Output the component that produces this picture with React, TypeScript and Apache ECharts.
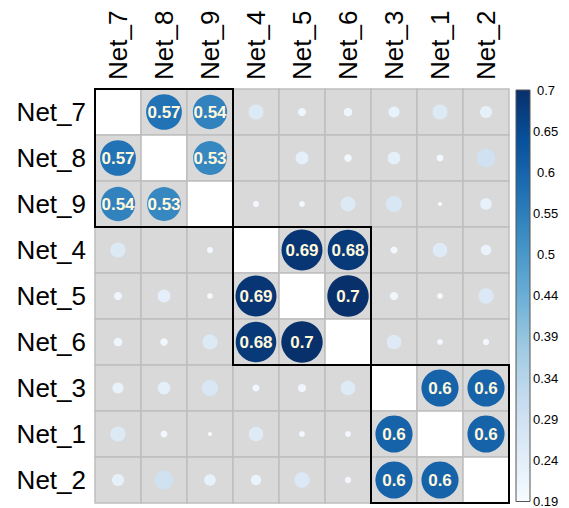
import React, { useEffect, useRef } from "react";
import * as echarts from "echarts";

const names = ["Net_7", "Net_8", "Net_9", "Net_4", "Net_5", "Net_6", "Net_3", "Net_1", "Net_2"];

// correlation matrix rows (null = diagonal)
const rowNet7 = [null, 0.57, 0.54, 0.258, 0.209, 0.212, 0.227, 0.258, 0.233];
const rowNet8 = [0.57, null, 0.53, 0.19, 0.239, 0.207, 0.237, 0.204, 0.292];
const rowNet9 = [0.54, 0.53, null, 0.201, 0.2, 0.258, 0.268, 0.195, 0.23];
const rowNet4 = [0.258, 0.19, 0.201, null, 0.69, 0.68, 0.205, 0.254, 0.223];
const rowNet5 = [0.209, 0.239, 0.2, 0.69, null, 0.7, 0.21, 0.2, 0.261];
const rowNet6 = [0.212, 0.207, 0.258, 0.68, 0.7, null, 0.254, 0.2, 0.202];
const rowNet3 = [0.227, 0.237, 0.268, 0.205, 0.21, 0.254, null, 0.6, 0.6];
const rowNet1 = [0.258, 0.204, 0.195, 0.254, 0.2, 0.2, 0.6, null, 0.6];
const rowNet2 = [0.233, 0.292, 0.23, 0.223, 0.261, 0.202, 0.6, 0.6, null];
const matrix = [rowNet7, rowNet8, rowNet9, rowNet4, rowNet5, rowNet6, rowNet3, rowNet1, rowNet2];

// clusters (start index, end index)
const clusters = [
  [0, 2],
  [3, 5],
  [6, 8],
];

const colMin = 0.19;
const colMax = 0.7;
const colorbarTicks = ["0.19", "0.24", "0.29", "0.34", "0.39", "0.44", "0.5", "0.55", "0.6", "0.65", "0.7"];
const blues = ["#F7FBFF", "#DEEBF7", "#C6DBEF", "#9ECAE1", "#6BAED6", "#4292C6", "#2171B5", "#08519C", "#08306B"];

const FONT = "'Liberation Sans', Arial, Helvetica, sans-serif";

export default function App() {
  const ref = useRef<HTMLDivElement>(null);
  useEffect(() => {
    if (!ref.current) return;
    const chart = echarts.init(ref.current, null, { renderer: "svg" });

    const cells: number[][] = [];
    const points: number[][] = [];
    for (let r = 0; r < names.length; r++) {
      for (let c = 0; c < names.length; c++) {
        cells.push([c, r]);
        const v = matrix[r][c];
        if (v !== null && v !== undefined) points.push([c, r, v as number]);
      }
    }

    const option: any = {
      animation: false,
      backgroundColor: "#ffffff",
      grid: [
        { left: 95, top: 89, width: 414, height: 414 },
        { left: 516, top: 90, width: 14, height: 413 },
      ],
      xAxis: [
        {
          gridIndex: 0,
          type: "category",
          data: names,
          position: "top",
          axisLine: { show: false },
          axisTick: { show: false },
          splitLine: { show: false },
          axisLabel: { rotate: -90, fontSize: 26, color: "#000", fontFamily: FONT, margin: 9, interval: 0 },
        },
        { gridIndex: 1, type: "value", min: 0, max: 1, show: false },
      ],
      yAxis: [
        {
          gridIndex: 0,
          type: "category",
          data: names,
          inverse: true,
          axisLine: { show: false },
          axisTick: { show: false },
          splitLine: { show: false },
          axisLabel: { fontSize: 26, color: "#000", fontFamily: FONT, margin: 9, interval: 0 },
        },
        {
          gridIndex: 1,
          type: "value",
          min: 0,
          max: 10,
          interval: 1,
          position: "right",
          splitLine: { show: false },
          axisLine: { show: false },
          axisTick: { show: true, length: 3, lineStyle: { color: "#444", width: 1 } },
          axisLabel: {
            fontSize: 13,
            color: "#000",
            fontFamily: FONT,
            margin: 3,
            formatter: (v: number) => {
              const t = colorbarTicks[Math.round(v)];
              return t.length < 4 ? "{p|" + t + "}" : t;
            },
            rich: { p: { padding: [0, 0, 0, 4], fontSize: 13, fontFamily: FONT, color: "#000" } },
          },
        },
      ],
      visualMap: {
        show: false,
        type: "continuous",
        seriesIndex: 1,
        dimension: 2,
        min: colMin,
        max: colMax,
        inRange: { color: blues },
      },
      series: [
        {
          type: "custom",
          xAxisIndex: 0,
          yAxisIndex: 0,
          z: 1,
          data: cells,
          renderItem: (params: any, api: any) => {
            const c = api.value(0);
            const r = api.value(1);
            const p = api.coord([c, r]);
            const s = api.size([1, 1]);
            return {
              type: "rect",
              shape: { x: p[0] - s[0] / 2, y: p[1] - s[1] / 2, width: s[0], height: s[1] },
              style: { fill: c === r ? "#ffffff" : "#D9D9D9", stroke: "#BEBEBE", lineWidth: 1.5 },
            };
          },
        },
        {
          type: "scatter",
          xAxisIndex: 0,
          yAxisIndex: 0,
          z: 2,
          data: points,
          symbolSize: (val: number[]) => 41.4 * Math.sqrt(Math.max(0, (val[2] - colMin) / (colMax - colMin))),
          itemStyle: { opacity: 1 },
          label: {
            show: true,
            position: "inside",
            fontSize: 17,
            fontWeight: "bold",
            color: "#FFF8DC",
            fontFamily: FONT,
            formatter: (p: any) => (p.value[2] >= 0.5 ? String(p.value[2]) : ""),
          },
        },
        {
          type: "custom",
          xAxisIndex: 0,
          yAxisIndex: 0,
          z: 3,
          data: clusters,
          renderItem: (params: any, api: any) => {
            const a = api.value(0);
            const b = api.value(1);
            const p = api.coord([a, a]);
            const s = api.size([1, 1]);
            const n = b - a + 1;
            return {
              type: "rect",
              shape: { x: p[0] - s[0] / 2, y: p[1] - s[1] / 2, width: s[0] * n, height: s[1] * n },
              style: { fill: "none", stroke: "#000", lineWidth: 2 },
            };
          },
        },
        {
          type: "custom",
          xAxisIndex: 1,
          yAxisIndex: 1,
          z: 1,
          data: [[0, 0]],
          renderItem: (params: any, api: any) => {
            const p0 = api.coord([0, 10]);
            const p1 = api.coord([1, 0]);
            const stops = blues
              .slice()
              .reverse()
              .map((c, i) => ({ offset: i / (blues.length - 1), color: c }));
            return {
              type: "rect",
              shape: { x: p0[0], y: p0[1], width: p1[0] - p0[0], height: p1[1] - p0[1] },
              style: {
                fill: new echarts.graphic.LinearGradient(0, 0, 0, 1, stops),
                stroke: "#555",
                lineWidth: 1,
              },
            };
          },
        },
      ],
    };
    chart.setOption(option);
    return () => chart.dispose();
  }, []);
  return <div ref={ref} style={{ position: "fixed", left: 0, top: 0, width: 569, height: 508 }} />;
}
